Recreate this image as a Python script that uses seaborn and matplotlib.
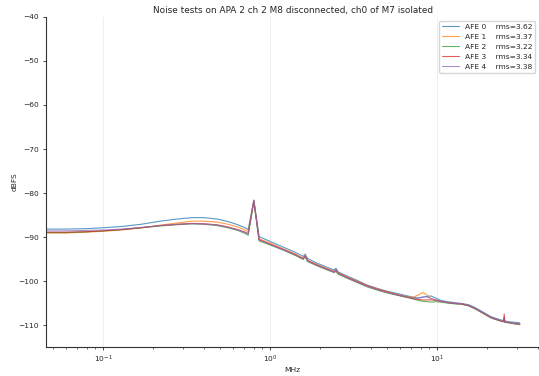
import pandas as pd
import matplotlib
matplotlib.use("Agg")
import matplotlib.pyplot as plt
import seaborn as sns

sns.set_style("ticks")

# frequency grid (MHz)
freq = [0.0456, 0.06, 0.08, 0.1, 0.13, 0.17, 0.22, 0.28, 0.34, 0.40,
        0.48, 0.56, 0.64, 0.70, 0.74, 0.80, 0.86, 1.0, 1.2, 1.4,
        1.58, 1.62, 1.68, 1.9, 2.2, 2.42, 2.48, 2.55, 2.9, 3.3,
        3.8, 4.4, 5.0, 5.7, 6.5, 7.2, 7.7, 8.2, 8.7, 9.2,
        9.8, 10.5, 11.5, 12.7, 14.0, 15.5, 17.0, 18.9, 21.0, 23.8,
        25.0, 25.2, 25.4, 27.5, 29.5, 31.25]

afe0 = [-88.2, -88.2, -88.1, -87.9, -87.6, -87.1, -86.4, -85.9, -85.6, -85.6,
        -85.9, -86.5, -87.2, -87.8, -88.3, -81.6, -89.9, -91.0, -92.3, -93.4,
        -94.4, -93.9, -94.9, -95.9, -96.9, -97.5, -97.1, -97.9, -98.9, -99.8,
        -100.9, -101.7, -102.3, -102.8, -103.3, -103.7, -103.9, -103.7, -103.5, -103.4,
        -103.9, -104.4, -104.7, -104.9, -105.1, -105.4, -106.1, -107.1, -108.1, -108.8,
        -109.0, -108.3, -109.1, -109.3, -109.4, -109.5]
afe1 = [-89.1, -89.1, -88.9, -88.7, -88.4, -87.9, -87.3, -86.8, -86.4, -86.4,
        -86.6, -87.1, -87.7, -88.3, -88.8, -81.8, -90.4, -91.4, -92.7, -93.8,
        -94.8, -94.2, -95.3, -96.2, -97.2, -97.8, -97.4, -98.1, -99.1, -100.0,
        -101.0, -101.8, -102.4, -103.0, -103.5, -103.7, -103.2, -102.6, -103.2, -104.0,
        -104.3, -104.6, -104.9, -105.1, -105.2, -105.6, -106.3, -107.3, -108.3, -109.0,
        -109.2, -109.2, -109.3, -109.5, -109.7, -109.8]
afe2 = [-89.0, -89.0, -88.8, -88.6, -88.3, -87.9, -87.5, -87.2, -87.0, -87.1,
        -87.4, -87.9, -88.5, -89.1, -89.6, -82.0, -90.9, -91.8, -93.0, -94.1,
        -95.1, -94.5, -95.6, -96.5, -97.5, -98.1, -97.8, -98.4, -99.4, -100.3,
        -101.3, -102.1, -102.7, -103.2, -103.7, -104.1, -104.4, -104.6, -104.7, -104.8,
        -104.7, -104.8, -105.0, -105.2, -105.3, -105.7, -106.4, -107.4, -108.4, -109.1,
        -109.3, -109.3, -109.4, -109.6, -109.8, -109.9]
afe3 = [-88.9, -88.9, -88.8, -88.6, -88.3, -87.9, -87.4, -87.1, -86.9, -87.0,
        -87.2, -87.7, -88.3, -88.8, -89.2, -81.8, -90.6, -91.6, -92.8, -93.9,
        -94.9, -94.3, -95.4, -96.3, -97.3, -97.9, -97.5, -98.2, -99.2, -100.1,
        -101.1, -101.9, -102.5, -103.1, -103.6, -104.0, -104.2, -104.3, -104.3, -104.3,
        -104.4, -104.6, -104.9, -105.1, -105.2, -105.6, -106.3, -107.3, -108.3, -109.0,
        -109.2, -107.5, -109.3, -109.5, -109.7, -109.8]
afe4 = [-88.6, -88.6, -88.5, -88.4, -88.2, -87.8, -87.4, -87.1, -87.0, -87.0,
        -87.3, -87.8, -88.4, -88.9, -89.3, -81.7, -90.7, -91.7, -92.9, -94.0,
        -95.0, -94.3, -95.5, -96.4, -97.4, -98.0, -97.4, -98.3, -99.3, -100.2,
        -101.2, -102.0, -102.6, -103.1, -103.6, -103.9, -103.9, -103.6, -103.6, -104.0,
        -104.3, -104.6, -104.9, -105.1, -105.2, -105.6, -106.3, -107.3, -108.3, -109.0,
        -109.2, -109.2, -109.3, -109.5, -109.7, -109.8]

names = ["AFE 0", "AFE 1", "AFE 2", "AFE 3", "AFE 4"]
rms = [3.62, 3.37, 3.22, 3.34, 3.38]
series = [afe0, afe1, afe2, afe3, afe4]
colors = ["#1f77b4", "#ff7f0e", "#2ca02c", "#d62728", "#9467bd"]

fig = plt.figure(figsize=(5.39, 3.76), dpi=100)
ax = fig.add_axes([0.0853, 0.0771, 0.915, 0.8777])

for name, r, vals, c in zip(names, rms, series, colors):
    df = pd.DataFrame({"MHz": freq, "dBFS": vals})
    sns.lineplot(data=df, x="MHz", y="dBFS", ax=ax, color=c, lw=0.8, alpha=0.75,
                 sort=False, estimator=None, label=f"{name}    rms={r:.2f}")

ax.set_xscale("log")
ax.set_xlim(0.0456, 40.8)
ax.set_ylim(-115, -40)
ax.set_yticks(range(-110, -39, 10))
ax.grid(axis="x", which="major", color="#ececec", lw=0.6)
sns.despine(ax=ax)
for s in ["left", "bottom"]:
    ax.spines[s].set_linewidth(0.8)
    ax.spines[s].set_color("#333333")
ax.tick_params(labelsize=5.4, width=0.6, length=2.5, pad=2.5)
ax.tick_params(which="minor", width=0.5, length=1.5)

ax.set_title("Noise tests on APA 2 ch 2 M8 disconnected, ch0 of M7 isolated", fontsize=6.4, pad=3)
ax.set_xlabel("MHz", fontsize=5.4, labelpad=1)
ax.set_ylabel("dBFS", fontsize=5.4, labelpad=1)
ax.legend(loc="upper right", fontsize=5.4, frameon=True, framealpha=0.8,
          edgecolor="#cccccc", handlelength=2.2)

fig.savefig("out.png", dpi=100)
